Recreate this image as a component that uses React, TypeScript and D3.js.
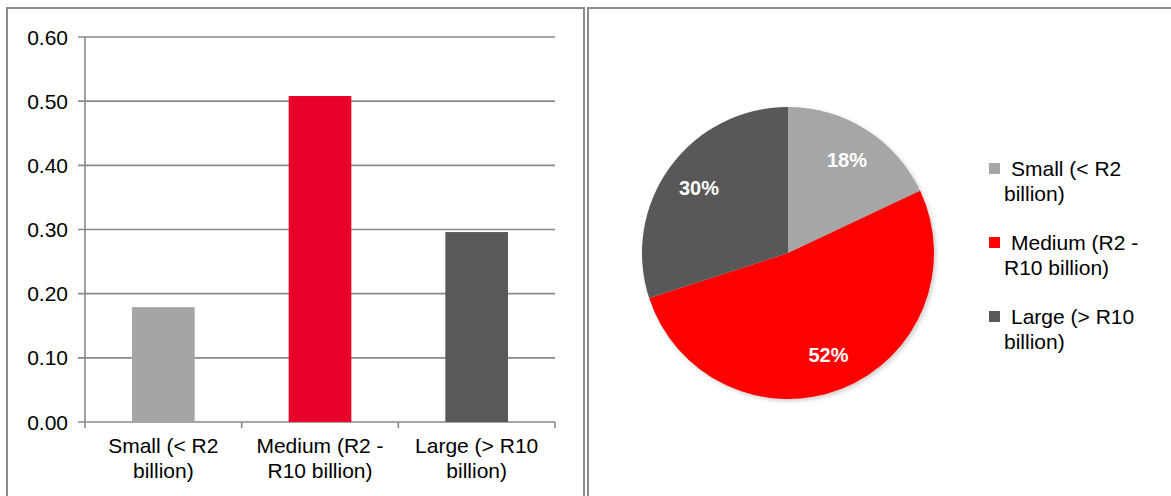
import React from "react";
import * as d3 from "d3";

const categories = ["Small (< R2 billion)", "Medium (R2 - R10 billion)", "Large (> R10 billion)"];
const categoryLines = [["Small (< R2", "billion)"], ["Medium (R2 -", "R10 billion)"], ["Large (> R10", "billion)"]];
const barValues = [0.179, 0.508, 0.296];
const pieShares = [18, 52, 30];
const yTicks = [0, 0.1, 0.2, 0.3, 0.4, 0.5, 0.6];
const barColors = ["#A5A5A5", "#E8002A", "#595959"];
const pieColors = ["#A6A6A6", "#FF0000", "#595959"];

const W = 1171;
const H = 496;
const FONT = "'Liberation Sans', Arial, sans-serif";

export default function App() {
  const x = d3.scaleBand<number>().domain(d3.range(categories.length)).range([85, 555]).paddingInner(0.6).paddingOuter(0.3);
  const xOuter = d3.scaleBand<number>().domain(d3.range(categories.length)).range([85, 555]);
  const y = d3.scaleLinear().domain([0, 0.6]).range([422, 37]);

  const pie = d3.pie<number>().sort(null).value((d) => d);
  const arcs = pie(pieShares);
  const r = 146;
  const arc = d3.arc<d3.PieArcDatum<number>>().innerRadius(0).outerRadius(r);
  const labelArc = d3.arc<d3.PieArcDatum<number>>().innerRadius(110).outerRadius(110);
  const cx = 788;
  const cy = 253;

  const gridColor = "#898989";

  return (
    <svg width={W} height={H} style={{ position: "absolute", left: 0, top: 0, display: "block", background: "#fff" }} fontFamily={FONT}>
      <defs>
        <filter id="shadow" x="-20%" y="-20%" width="140%" height="140%">
          <feDropShadow dx="2" dy="2" stdDeviation="2" floodColor="#000" floodOpacity="0.2" />
        </filter>
      </defs>
      {/* panel frames */}
      <rect x={7} y={8} width={577} height={H + 10} fill="none" stroke="#8a8a8a" strokeWidth={2} />
      <rect x={588} y={8} width={W} height={H + 10} fill="none" stroke="#8a8a8a" strokeWidth={2} />

      {/* gridlines */}
      {yTicks.map((t) => (
        <line key={"g" + t} x1={78} x2={555} y1={y(t)} y2={y(t)} stroke={gridColor} strokeWidth={1.6} />
      ))}
      {/* y axis */}
      <line x1={85} x2={85} y1={y(0.6)} y2={y(0)} stroke={gridColor} strokeWidth={1.6} />
      {/* x tick marks */}
      {d3.range(categories.length + 1).map((i) => {
        const px = i < categories.length ? xOuter(i)! : xOuter(categories.length - 1)! + xOuter.bandwidth();
        return <line key={"xt" + i} x1={px} x2={px} y1={y(0)} y2={y(0) + 6} stroke={gridColor} strokeWidth={1.6} />;
      })}
      {/* y tick labels */}
      {yTicks.map((t) => (
        <text key={"yl" + t} x={68} y={y(t) + 7.5} textAnchor="end" fontSize={21} fill="#000">
          {d3.format(".2f")(t)}
        </text>
      ))}
      {/* bars */}
      {barValues.map((v, i) => (
        <rect key={"b" + i} x={x(i)} y={y(v)} width={x.bandwidth()} height={y(0) - y(v)} fill={barColors[i]} />
      ))}
      {/* category labels */}
      {categoryLines.map((lines, i) => (
        <text key={"c" + i} textAnchor="middle" fontSize={21} fill="#000">
          {lines.map((ln, j) => (
            <tspan key={j} x={xOuter(i)! + xOuter.bandwidth() / 2} y={453 + j * 25}>
              {ln}
            </tspan>
          ))}
        </text>
      ))}

      {/* pie */}
      <g transform={`translate(${cx},${cy})`}>
        <g filter="url(#shadow)">
          {arcs.map((a, i) => (
            <path key={"p" + i} d={arc(a)!} fill={pieColors[i]} />
          ))}
        </g>
        {arcs.map((a, i) => {
          const [lx, ly] = labelArc.centroid(a);
          return (
            <text key={"pl" + i} x={lx} y={ly + 7} textAnchor="middle" fontSize={20} fontWeight="bold" fill="#fff">
              {pieShares[i]}%
            </text>
          );
        })}
      </g>

      {/* legend */}
      {categoryLines.map((lines, i) => (
        <g key={"lg" + i} transform={`translate(989, ${163 + i * 74})`}>
          <rect x={0} y={0} width={11} height={11} fill={pieColors[i]} />
          <text fontSize={21} fill="#000">
            <tspan x={22} y={12.5}>{lines[0]}</tspan>
            <tspan x={15} y={37.5}>{lines[1]}</tspan>
          </text>
        </g>
      ))}
    </svg>
  );
}
